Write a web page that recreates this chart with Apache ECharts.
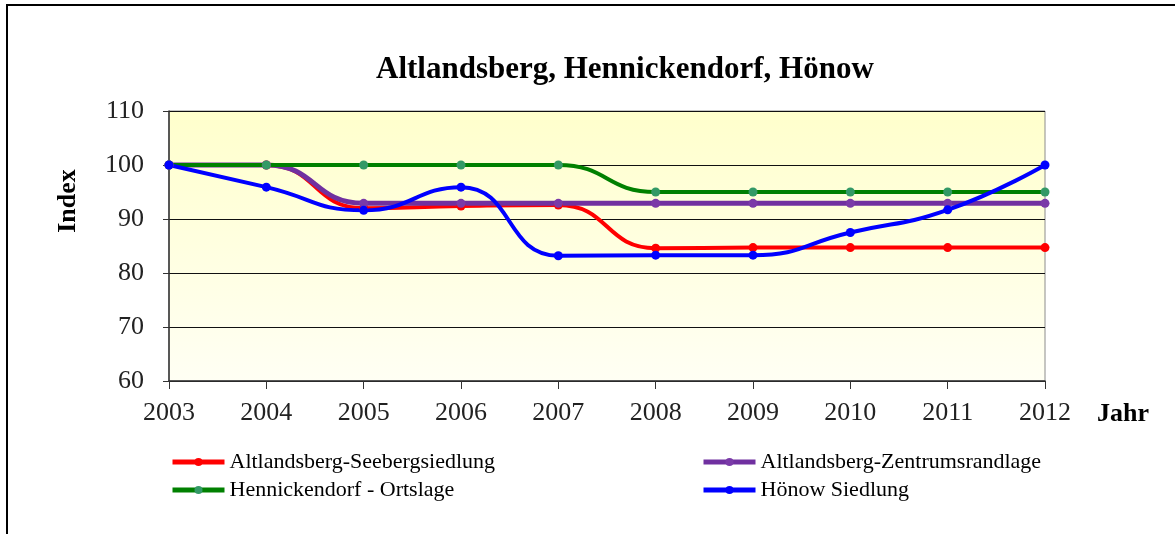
<!DOCTYPE html>
<html lang="de">
<head>
    <meta charset="UTF-8">
    <title>Altlandsberg, Hennickendorf, Hönow</title>
    <script src="https://cdn.jsdelivr.net/npm/echarts@6/dist/echarts.min.js"></script>
    <style>
        html, body { margin: 0; padding: 0; background: #fff; }
        #container { width: 1175px; height: 534px; }
    </style>
</head>
<body>
<div id="container"></div>
<script type="text/javascript">
    var years = ['2003', '2004', '2005', '2006', '2007', '2008', '2009', '2010', '2011', '2012'];
    var seeberg = [100, 100, 92.0, 92.4, 92.6, 84.6, 84.7, 84.7, 84.7, 84.7];
    var zentrum = [100, 100, 92.9, 92.9, 92.9, 92.9, 92.9, 92.9, 92.9, 92.9];
    var hennickendorf = [100, 100, 100, 100, 100, 95, 95, 95, 95, 95];
    var hoenow = [100, 95.9, 91.6, 95.9, 83.2, 83.3, 83.3, 87.5, 91.7, 100];

    var font = '"Liberation Serif", "Times New Roman", serif';
    var myChart = echarts.init(document.getElementById('container'));

    function line(name, data, color, markColor, width) {
        return {
            name: name,
            type: 'line',
            data: data,
            smooth: 0.5,
            symbol: 'circle',
            symbolSize: 9,
            lineStyle: { color: color, width: width },
            itemStyle: { color: markColor, borderWidth: 0 }
        };
    }

    var legendBase = {
        top: 451,
        padding: 0,
        orient: 'vertical',
        itemGap: 6,
        itemWidth: 52,
        itemHeight: 10,
        lineStyle: { width: 5 },
        textStyle: { fontFamily: font, fontSize: 22, color: '#000' }
    };

    myChart.setOption({
        animation: false,
        textStyle: { fontFamily: font },
        title: {
            text: 'Altlandsberg, Hennickendorf, Hönow',
            left: 371,
            top: 49,
            textStyle: { fontFamily: font, fontSize: 31, fontWeight: 'bold', color: '#000' }
        },
        graphic: [{
            type: 'rect',
            shape: { x: 7, y: 5, width: 1300, height: 700 },
            style: { fill: null, stroke: '#000', lineWidth: 2 },
            silent: true
        }],
        legend: [
            Object.assign({}, legendBase, {
                left: 170,
                data: ['Altlandsberg-Seebergsiedlung', 'Hennickendorf - Ortslage']
            }),
            Object.assign({}, legendBase, {
                left: 701,
                data: ['Altlandsberg-Zentrumsrandlage', 'Hönow Siedlung']
            })
        ],
        grid: {
            left: 169,
            right: 130,
            top: 111,
            bottom: 153,
            show: true,
            borderColor: '#8c8c8c',
            borderWidth: 1,
            backgroundColor: new echarts.graphic.LinearGradient(0, 0, 0, 1, [
                { offset: 0, color: '#ffffcc' },
                { offset: 1, color: '#fffff4' }
            ])
        },
        xAxis: {
            type: 'category',
            data: years,
            boundaryGap: false,
            name: 'Jahr',
            nameLocation: 'end',
            nameGap: 52,
            nameTextStyle: { fontFamily: font, fontSize: 26, fontWeight: 'bold', color: '#000', verticalAlign: 'top', padding: [20, 0, 0, 0] },
            axisLine: { lineStyle: { color: '#333', width: 1.5 } },
            axisTick: { alignWithLabel: true, length: 8, lineStyle: { color: '#333' } },
            axisLabel: { margin: 19, fontSize: 26, color: '#222', fontFamily: font },
            splitLine: { show: false }
        },
        yAxis: {
            type: 'value',
            min: 60,
            max: 110,
            interval: 10,
            name: 'Index',
            nameLocation: 'middle',
            nameGap: 88,
            nameTextStyle: { fontFamily: font, fontSize: 26, fontWeight: 'bold', color: '#000', padding: [0, 0, 0, 90] },
            axisLine: { show: true, lineStyle: { color: '#333', width: 1.5 } },
            axisTick: { show: true, length: 6, lineStyle: { color: '#333' } },
            axisLabel: { margin: 25, fontSize: 26, color: '#222', fontFamily: font },
            splitLine: { show: true, lineStyle: { color: '#111', width: 1 } }
        },
        series: [
            line('Altlandsberg-Seebergsiedlung', seeberg, '#ff0000', '#ff0000', 4),
            line('Altlandsberg-Zentrumsrandlage', zentrum, '#7030a0', '#7a3aa8', 5),
            line('Hennickendorf - Ortslage', hennickendorf, '#008000', '#339966', 4),
            line('Hönow Siedlung', hoenow, '#0000ff', '#0000ff', 4)
        ]
    });
</script>
</body>
</html>
